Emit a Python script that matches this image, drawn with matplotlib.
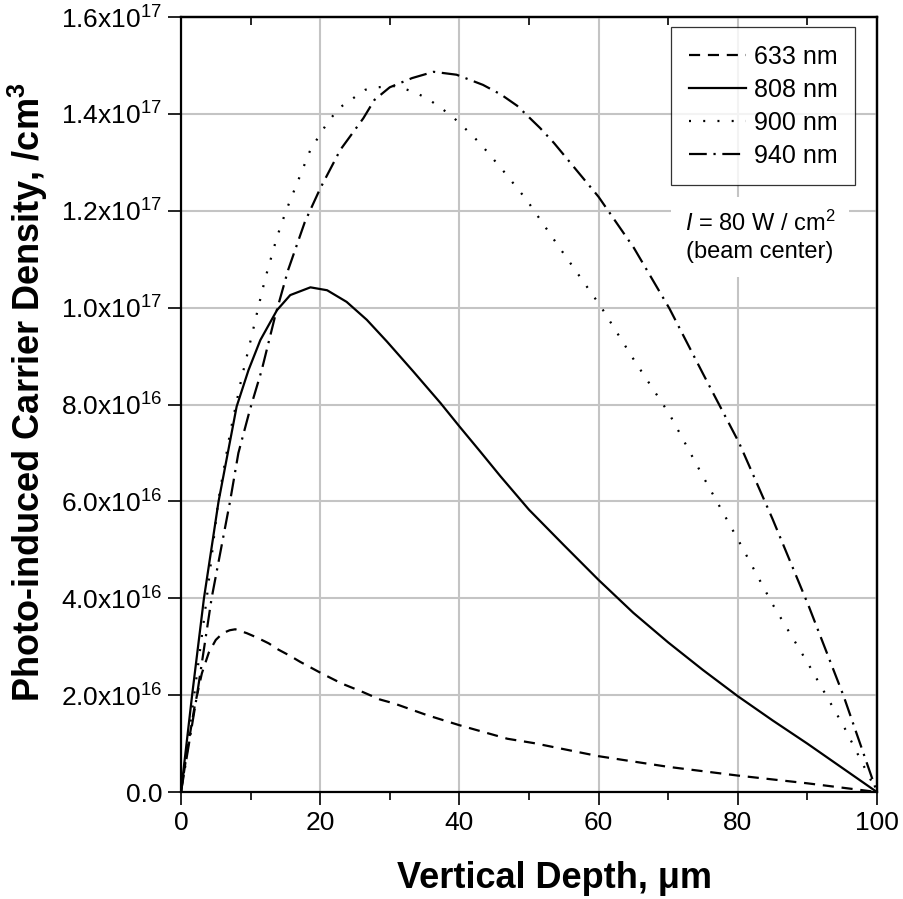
import numpy as np
import matplotlib
matplotlib.use("Agg")
import matplotlib.pyplot as plt
from matplotlib.ticker import MultipleLocator

plt.rcParams['font.family'] = ['Liberation Sans', 'DejaVu Sans']
plt.rcParams['mathtext.fontset'] = 'custom'
plt.rcParams['mathtext.rm'] = 'Liberation Sans'
plt.rcParams['mathtext.it'] = 'Liberation Sans:italic'
plt.rcParams['mathtext.bf'] = 'Liberation Sans:bold'

# values, carrier density in units of 1e16 /cm^3
x_633 = [0, 1, 2, 3, 4, 5, 6, 7, 7.8, 9.45, 10.9, 12.6, 14.0, 15.7, 17.1, 20.2, 23.1,
         26.2, 28.6, 30.6, 35.3, 40, 46.9, 50.7, 60, 70, 80, 90, 95, 100]
n_633 = [0, 0.95, 1.8, 2.45, 2.88, 3.14, 3.28, 3.34, 3.36, 3.28, 3.19, 3.07, 2.94, 2.81,
         2.69, 2.45, 2.24, 2.06, 1.91, 1.83, 1.59, 1.38, 1.10, 1.01, 0.74, 0.52, 0.34,
         0.18, 0.09, 0]

x_808 = [0, 1.6, 3.3, 5.4, 8.0, 9.7, 11.4, 13.8, 15.7, 18.6, 21.0, 23.8, 26.7,
         29.6, 33.4, 37.3, 40.0, 43.0, 45.9, 50.0, 55, 60, 65, 70, 75, 80, 85, 90, 95, 100]
n_808 = [0, 2.0, 4.0, 6.0, 7.96, 8.71, 9.33, 9.95, 10.26, 10.42, 10.36, 10.12,
         9.75, 9.30, 8.68, 8.03, 7.55, 7.03, 6.52, 5.83, 5.1, 4.38, 3.7, 3.09, 2.52,
         1.98, 1.48, 1.0, 0.5, 0]

x_900 = [0, 1.9, 3.7, 5.35, 7.05, 8.7, 10.2, 11.1, 12.1, 13.8, 15.1, 18.6, 21, 22.7, 26.5,
         28.3, 30.4, 31.9, 33.7, 35.5, 37.4, 39.2, 40.9, 43, 46.4, 49.7, 54.1, 60.3,
         65.1, 70.2, 75, 80.2, 85, 90.2, 95.3, 100]
n_900 = [0, 2.0, 4.0, 6.0, 7.41, 8.54, 9.44, 10.0, 10.6, 11.46, 12.0, 13.26, 13.81, 14.12,
         14.5, 14.55, 14.58, 14.53, 14.44, 14.31, 14.12, 13.92, 13.69, 13.39, 12.81,
         12.22, 11.3, 10.03, 8.92, 7.8, 6.52, 5.17, 3.88, 2.63, 1.34, 0]

x_940 = [0, 2.3, 4.4, 7.05, 8.25, 9.9, 11.6, 13.5, 15.4, 17.8, 20, 22.9, 26.2, 27.8, 30,
         33.2, 36.3, 39.6, 43.4, 46, 48.3, 51.6, 53.6, 60, 65.1, 70.2, 75, 80.2, 85,
         90.2, 95.2, 100]
n_940 = [0, 2.0, 4.0, 6.0, 7.0, 7.89, 8.71, 9.81, 10.78, 11.77, 12.46, 13.26, 13.91,
         14.29, 14.55, 14.74, 14.87, 14.81, 14.6, 14.4, 14.17, 13.71, 13.4, 12.29, 11.23,
         9.98, 8.64, 7.21, 5.64, 3.84, 1.99, 0]

labels = ['633 nm', '808 nm', '900 nm', '940 nm']
y_ticks = [0, 2e16, 4e16, 6e16, 8e16, 1e17, 1.2e17, 1.4e17, 1.6e17]
y_tick_labels = ['0.0', '2.0x10$^{\\mathregular{16}}$', '4.0x10$^{\\mathregular{16}}$',
                 '6.0x10$^{\\mathregular{16}}$', '8.0x10$^{\\mathregular{16}}$',
                 '1.0x10$^{\\mathregular{17}}$', '1.2x10$^{\\mathregular{17}}$',
                 '1.4x10$^{\\mathregular{17}}$', '1.6x10$^{\\mathregular{17}}$']
x_ticks = [0, 20, 40, 60, 80, 100]

fig = plt.figure(figsize=(9.04, 8.99), dpi=100)
ax = fig.add_axes([0.2002, 0.119, 0.7698, 0.862])

lw = 1.6
ax.plot(x_633, np.array(n_633) * 1e16, color='black', lw=lw, ls=(0, (5, 3.5)), label=labels[0])
ax.plot(x_808, np.array(n_808) * 1e16, color='black', lw=lw, ls='-', label=labels[1])
ax.plot(x_900, np.array(n_900) * 1e16, color='black', lw=lw, ls=(0, (0.9, 5.5)), label=labels[2])
ax.plot(x_940, np.array(n_940) * 1e16, color='black', lw=lw, ls=(0, (8, 3, 1, 3)), label=labels[3])

ax.set_xlim(0, 100)
ax.set_ylim(0, 1.6e17)
ax.set_xticks(x_ticks)
ax.xaxis.set_minor_locator(MultipleLocator(10))
ax.set_yticks(y_ticks)
ax.set_yticklabels(y_tick_labels)
ax.tick_params(axis='both', which='major', labelsize=19, length=9.5, width=1.2,
               direction='out', pad=4)
ax.tick_params(axis='x', which='minor', length=5.5, width=1.2, direction='out')
ax.grid(True, which='major', color='#c4c4c4', lw=1.5)
ax.set_axisbelow(True)
for s in ax.spines.values():
    s.set_linewidth(1.6)

# inward ticks on the top and right edges
top = ax.secondary_xaxis('top')
top.set_xticks(x_ticks)
top.xaxis.set_minor_locator(MultipleLocator(10))
top.tick_params(which='major', direction='in', length=9.5, width=1.2, labeltop=False)
top.tick_params(which='minor', direction='in', length=5.5, width=1.2)
top.spines['top'].set_linewidth(1.6)
right = ax.secondary_yaxis('right')
right.set_yticks(y_ticks)
right.tick_params(direction='in', length=9.5, width=1.2, labelright=False)
right.spines['right'].set_linewidth(1.6)

ax.set_xlabel('Vertical Depth, μm', fontsize=26, fontweight='bold')
ax.set_ylabel('Photo-induced Carrier Density, /cm$^{\\mathbf{3}}$', fontsize=26,
              fontweight='bold')
ax.xaxis.set_label_coords(0.537, -0.089)
ax.yaxis.set_label_coords(-0.188, 0.516)

leg = ax.legend(loc='upper right', bbox_to_anchor=(0.969, 0.987), fontsize=18,
                frameon=True, fancybox=False, handlelength=2.3, handletextpad=0.32,
                labelspacing=0.36, borderpad=0.7, borderaxespad=0)
leg.get_frame().set_edgecolor('black')
leg.get_frame().set_linewidth(0.9)

ax.text(0.832, 0.716, '$\\mathit{I}$ = 80 W / cm$^{\\mathregular{2}}$\n(beam center)',
        transform=ax.transAxes, ha='center', va='center', fontsize=17,
        linespacing=1.3,
        bbox=dict(facecolor='white', edgecolor='none', pad=10))

fig.savefig('out.png', dpi=100)
